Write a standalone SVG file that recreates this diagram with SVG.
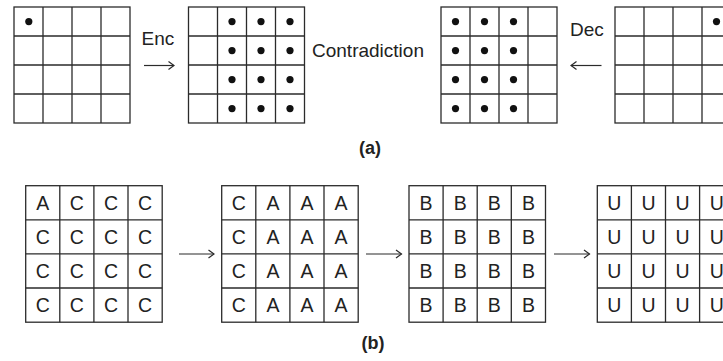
<svg xmlns="http://www.w3.org/2000/svg" xmlns:xlink="http://www.w3.org/1999/xlink" width="723" height="361" viewBox="0 0 723 361">
<style>
.g{fill:#fff;stroke:#2b2b2b;stroke-width:1.3}
.gl{stroke:#2b2b2b;stroke-width:1.3}
.t{font-family:"Liberation Sans",Arial,sans-serif;fill:#222}
.lbl{font-size:19px}
.cap{font-size:18px;font-weight:bold;text-anchor:middle}
.cell{font-size:19.5px;text-anchor:middle}
.dot{fill:#111}
.arr{stroke:#2b2b2b;stroke-width:1.2;fill:none;marker-end:url(#ah)}
</style>
<defs>
<marker id="ah" markerUnits="userSpaceOnUse" viewBox="0 0 8 10" refX="7" refY="5" markerWidth="8" markerHeight="10" orient="auto">
<path d="M1.5,1 L7,5 L1.5,9" fill="none" stroke="#2b2b2b" stroke-width="1.2"/>
</marker>
<g id="gs">
<rect class="g" x="0" y="0" width="116" height="116"/>
<path class="gl" d="M29,0V116M58,0V116M87,0V116M0,29H116M0,58H116M0,87H116"/>
</g>
<g id="gb">
<rect class="g" x="0" y="0" width="136.5" height="136.5"/>
<path class="gl" d="M34.1,0V136.5M68.2,0V136.5M102.3,0V136.5M0,34.1H136.5M0,68.2H136.5M0,102.3H136.5"/>
</g>
</defs>

<g id="a-grid1">
<use xlink:href="#gs" x="14" y="7"/>
<circle class="dot" cx="28.8" cy="21.6" r="3.6"/>
</g>
<g id="a-grid2">
<use xlink:href="#gs" x="188.5" y="7"/>
<g class="dot">
<circle cx="232" cy="21.6" r="3.6"/><circle cx="261" cy="21.6" r="3.6"/><circle cx="290" cy="21.6" r="3.6"/>
<circle cx="232" cy="50.6" r="3.6"/><circle cx="261" cy="50.6" r="3.6"/><circle cx="290" cy="50.6" r="3.6"/>
<circle cx="232" cy="79.6" r="3.6"/><circle cx="261" cy="79.6" r="3.6"/><circle cx="290" cy="79.6" r="3.6"/>
<circle cx="232" cy="108.6" r="3.6"/><circle cx="261" cy="108.6" r="3.6"/><circle cx="290" cy="108.6" r="3.6"/>
</g>
</g>
<g id="a-grid3">
<use xlink:href="#gs" x="441" y="7"/>
<g class="dot">
<circle cx="455.5" cy="21.6" r="3.6"/><circle cx="484.5" cy="21.6" r="3.6"/><circle cx="513.5" cy="21.6" r="3.6"/>
<circle cx="455.5" cy="50.6" r="3.6"/><circle cx="484.5" cy="50.6" r="3.6"/><circle cx="513.5" cy="50.6" r="3.6"/>
<circle cx="455.5" cy="79.6" r="3.6"/><circle cx="484.5" cy="79.6" r="3.6"/><circle cx="513.5" cy="79.6" r="3.6"/>
<circle cx="455.5" cy="108.6" r="3.6"/><circle cx="484.5" cy="108.6" r="3.6"/><circle cx="513.5" cy="108.6" r="3.6"/>
</g>
</g>
<g id="a-grid4">
<use xlink:href="#gs" x="615" y="7"/>
<circle class="dot" cx="716.5" cy="21.6" r="3.6"/>
</g>

<g id="connectors">
<path class="arr" d="M144,65.5H174"/>
<path class="arr" d="M601.5,65.5H571"/>
<path class="arr" d="M179,254H214"/>
<path class="arr" d="M366,254H401.5"/>
<path class="arr" d="M554,254H589.5"/>
</g>

<g id="labels-a">
<text class="t lbl" x="141.5" y="45">Enc</text>
<text class="t lbl" x="312" y="57">Contradiction</text>
<text class="t lbl" x="570" y="36">Dec</text>
<text class="t cap" x="370" y="154">(a)</text>
</g>

<g id="b-grid1">
<use xlink:href="#gb" x="25.7" y="185.7"/>
<g class="t cell">
<text x="42.8" y="210">A</text><text x="76.9" y="210">C</text><text x="111" y="210">C</text><text x="145.1" y="210">C</text>
<text x="42.8" y="244.1">C</text><text x="76.9" y="244.1">C</text><text x="111" y="244.1">C</text><text x="145.1" y="244.1">C</text>
<text x="42.8" y="278.2">C</text><text x="76.9" y="278.2">C</text><text x="111" y="278.2">C</text><text x="145.1" y="278.2">C</text>
<text x="42.8" y="312.3">C</text><text x="76.9" y="312.3">C</text><text x="111" y="312.3">C</text><text x="145.1" y="312.3">C</text>
</g>
</g>
<g id="b-grid2">
<use xlink:href="#gb" x="221.7" y="185.7"/>
<g class="t cell">
<text x="238.8" y="210">C</text><text x="272.9" y="210">A</text><text x="307" y="210">A</text><text x="341.1" y="210">A</text>
<text x="238.8" y="244.1">C</text><text x="272.9" y="244.1">A</text><text x="307" y="244.1">A</text><text x="341.1" y="244.1">A</text>
<text x="238.8" y="278.2">C</text><text x="272.9" y="278.2">A</text><text x="307" y="278.2">A</text><text x="341.1" y="278.2">A</text>
<text x="238.8" y="312.3">C</text><text x="272.9" y="312.3">A</text><text x="307" y="312.3">A</text><text x="341.1" y="312.3">A</text>
</g>
</g>
<g id="b-grid3">
<use xlink:href="#gb" x="409" y="185.7"/>
<g class="t cell">
<text x="426.1" y="210">B</text><text x="460.2" y="210">B</text><text x="494.3" y="210">B</text><text x="528.4" y="210">B</text>
<text x="426.1" y="244.1">B</text><text x="460.2" y="244.1">B</text><text x="494.3" y="244.1">B</text><text x="528.4" y="244.1">B</text>
<text x="426.1" y="278.2">B</text><text x="460.2" y="278.2">B</text><text x="494.3" y="278.2">B</text><text x="528.4" y="278.2">B</text>
<text x="426.1" y="312.3">B</text><text x="460.2" y="312.3">B</text><text x="494.3" y="312.3">B</text><text x="528.4" y="312.3">B</text>
</g>
</g>
<g id="b-grid4">
<use xlink:href="#gb" x="597.3" y="185.7"/>
<g class="t cell">
<text x="614.4" y="210">U</text><text x="648.5" y="210">U</text><text x="682.6" y="210">U</text><text x="716.7" y="210">U</text>
<text x="614.4" y="244.1">U</text><text x="648.5" y="244.1">U</text><text x="682.6" y="244.1">U</text><text x="716.7" y="244.1">U</text>
<text x="614.4" y="278.2">U</text><text x="648.5" y="278.2">U</text><text x="682.6" y="278.2">U</text><text x="716.7" y="278.2">U</text>
<text x="614.4" y="312.3">U</text><text x="648.5" y="312.3">U</text><text x="682.6" y="312.3">U</text><text x="716.7" y="312.3">U</text>
</g>
</g>

<g id="labels-b">
<text class="t cap" x="373" y="349">(b)</text>
</g>
</svg>
